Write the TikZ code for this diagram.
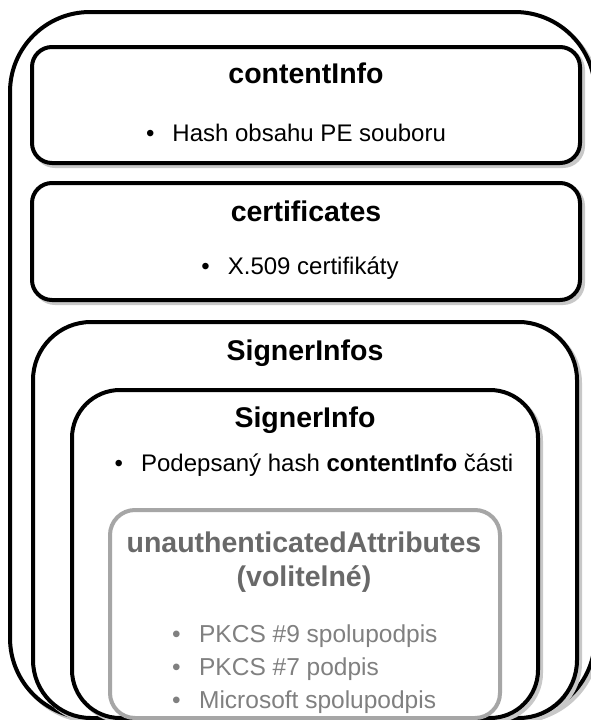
\documentclass[tikz,border=0pt]{standalone}
\usepackage{fontspec}
\setmainfont{Liberation Sans}
\usetikzlibrary{positioning}

\definecolor{shadowC}{RGB}{200,200,200}
\definecolor{optBorder}{RGB}{166,166,166}
\definecolor{optHead}{RGB}{105,105,105}
\definecolor{optText}{RGB}{128,128,128}

\newcommand{\bul}{\textbullet\hspace{0.75em}}

\begin{document}
\begin{tikzpicture}[x=1pt, y=-1pt,
    % black boxes with a light shadow to the lower right
    box/.style={draw, line width=4pt, fill=white,
                preaction={draw=shadowC, line width=4pt,
                           transform canvas={shift={(3pt,-3pt)}}}},
    optbox/.style={draw=optBorder, line width=4pt, fill=white},
    head/.style={font=\bfseries\fontsize{28.5}{34}\selectfont, inner sep=0pt, align=center},
    item/.style={font=\fontsize{24}{28}\selectfont, inner sep=0pt}
]

\useasboundingbox (0,0) rectangle (591,720);
\clip (0,0) rectangle (591,720);

% outer frame
\draw[box, rounded corners=80pt] (10,12) rectangle (595,718);

% contentInfo
\draw[box, rounded corners=20pt] (32,47) rectangle (580,163);
\node[head] (ciTitle) at (306,73) {contentInfo};
\node[item] (ciList) at (296,133) {\bul Hash obsahu PE souboru};

% certificates
\draw[box, rounded corners=20pt] (32,183) rectangle (580,300);
\node[head] (ceTitle) at (306,211) {certificates};
\node[item] (ceList) at (300,268) {\bul X.509 certifikáty};

% SignerInfos / SignerInfo
\draw[box, rounded corners=58pt] (33,322) rectangle (577,718);
\node[head] (sisTitle) at (305,353) {SignerInfos};

\draw[box, rounded corners=48pt] (72,390) rectangle (538,718);
\node[head] (siTitle) at (305,420) {SignerInfo};
\node[item] (siList) at (314,465) {\bul Podepsaný hash \textbf{contentInfo} části};

% optional attributes
\draw[optbox, rounded corners=25pt] (110,510) rectangle (500,718);
\node[head, text=optHead] (uaTitle) at (304,562) {unauthenticatedAttributes\\(volitelné)};
\node[item, text=optText, anchor=west, font=\fontsize{24.5}{28}\selectfont] (uaOne) at (172,636) {\bul PKCS \#9 spolupodpis};
\node[item, text=optText, anchor=west, font=\fontsize{24.5}{28}\selectfont] (uaTwo) at (172,669) {\bul PKCS \#7 podpis};
\node[item, text=optText, anchor=west, font=\fontsize{24.5}{28}\selectfont] (uaThree) at (172,702) {\bul Microsoft spolupodpis};

\end{tikzpicture}
\end{document}
